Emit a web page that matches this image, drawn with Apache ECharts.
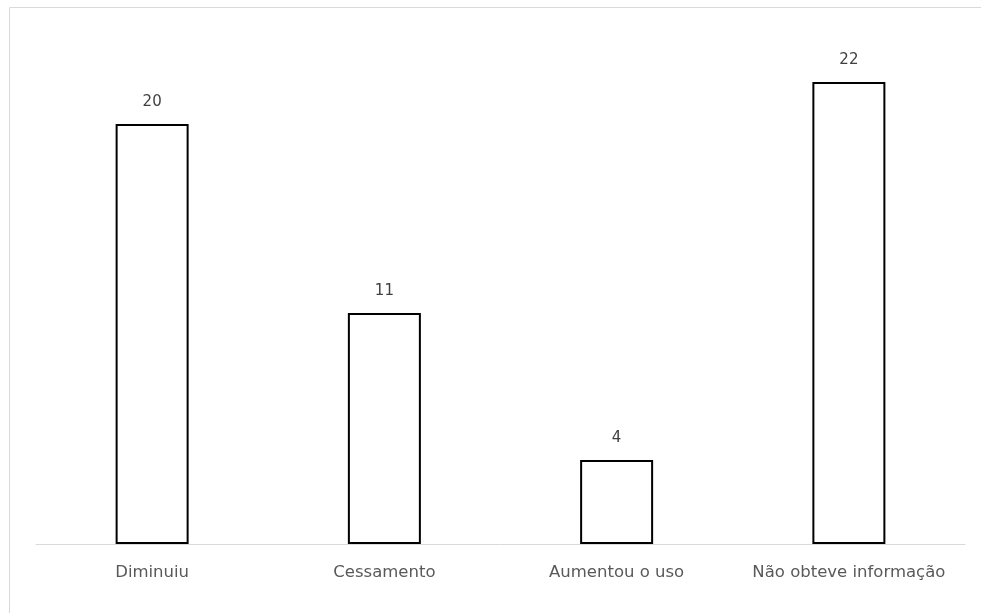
<!DOCTYPE html>
<html><head><meta charset="utf-8">
<script src="https://cdn.jsdelivr.net/npm/echarts@6/dist/echarts.min.js"></script>
<style>html,body{margin:0;padding:0;background:#fff}#c{width:981px;height:613px}</style>
</head><body><div id="c"></div>
<script>
const categories = ['Diminuiu', 'Cessamento', 'Aumentou o uso', 'Não obteve informação'];
const values = [20, 11, 4, 22];

const chart = echarts.init(document.getElementById('c'));
chart.setOption({
  animation: false,
  graphic: [{
    type: 'rect', shape: {x: 9.5, y: 7.5, width: 1000, height: 700},
    style: {fill: 'none', stroke: '#d9d9d9', lineWidth: 1}, silent: true
  }],
  grid: {left: 36, right: 16, top: 19, bottom: 69},
  xAxis: {
    type: 'category', data: categories,
    axisLine: {lineStyle: {color: '#d9d9d9', width: 1}},
    axisTick: {show: false},
    axisLabel: {interval: 0, hideOverlap: false, color: '#595959', fontSize: 16.5, margin: 20,
      fontFamily: 'DejaVu Sans, sans-serif'}
  },
  yAxis: {
    type: 'value', min: 0, max: 25, interval: 5,
    show: false, splitLine: {show: false}
  },
  series: [{
    type: 'bar', data: values, barWidth: 73,
    itemStyle: {color: '#ffffff', borderColor: '#000000', borderWidth: 2},
    label: {show: true, position: 'top', distance: 14, color: '#404040', fontSize: 15,
      fontFamily: 'DejaVu Sans, sans-serif'}
  }]
});
</script></body></html>
